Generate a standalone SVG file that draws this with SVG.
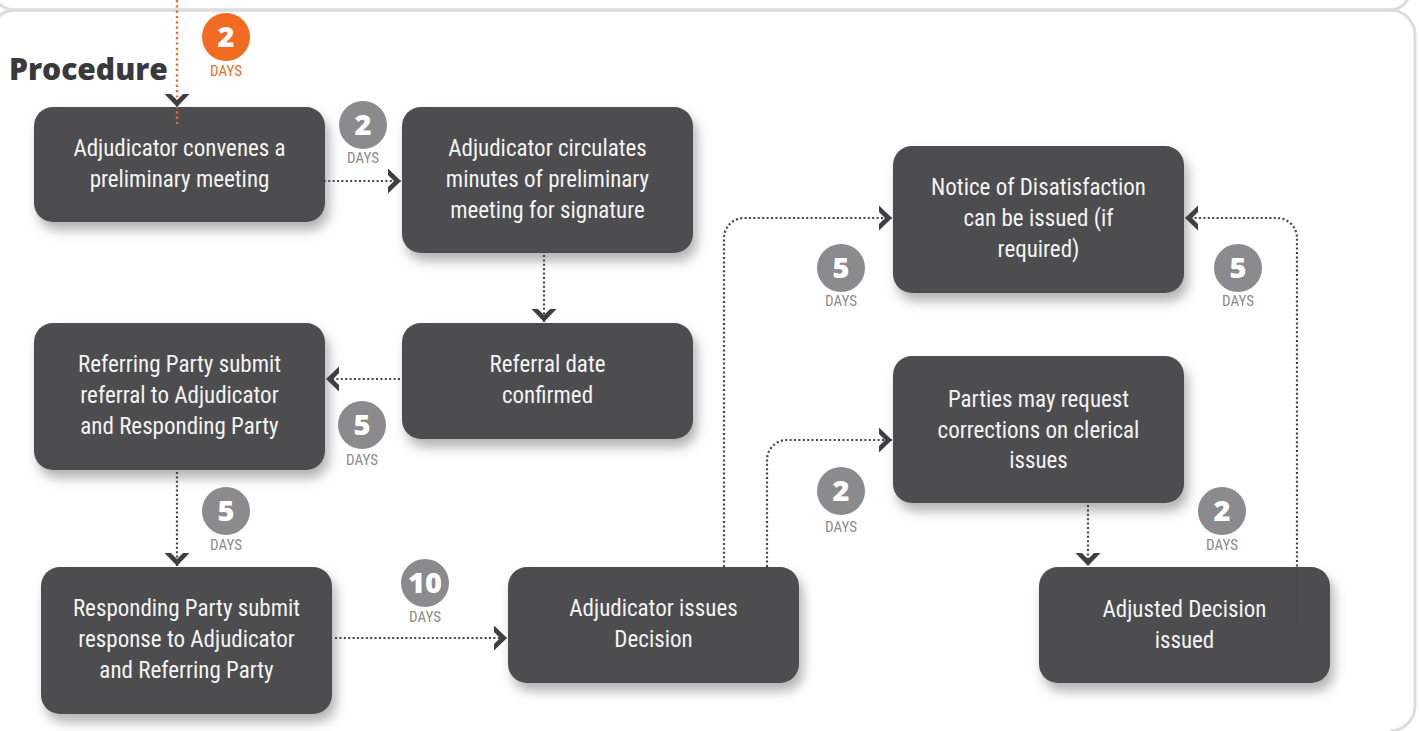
<svg xmlns="http://www.w3.org/2000/svg" width="1419" height="731" viewBox="0 0 1419 731">
<style>
.box{fill:#4d4d4f;filter:url(#sh)}
.bt{font-family:"Roboto Condensed","Liberation Sans Narrow",Roboto,sans-serif;font-stretch:condensed;font-size:23px;fill:#f4f4f4;text-anchor:middle}
.con{fill:none;stroke:#454547;stroke-width:2.2;stroke-dasharray:2 2.4;marker-end:url(#chev)}
.org{fill:none;stroke:#f26b22;stroke-width:2.4;stroke-dasharray:2.2 3.1}
.bc{fill:#8b8b8d}
.bn{font-family:"Open Sans",sans-serif;font-weight:800;font-size:29px;fill:#fff;text-anchor:middle}
.days{font-family:"Roboto Condensed","Liberation Sans Narrow",Roboto,sans-serif;font-stretch:condensed;font-size:15px;fill:#8b8b8d;text-anchor:middle}
.frame{fill:none;stroke:#dcdcdc;stroke-width:3}
</style>
<defs>
<filter id="sh" x="-20%" y="-20%" width="150%" height="160%">
<feDropShadow dx="4" dy="8" stdDeviation="6" flood-color="#000" flood-opacity="0.3"/>
</filter>
<marker id="chev" markerUnits="userSpaceOnUse" markerWidth="30" markerHeight="30" viewBox="-15 -15 30 30" refX="0" refY="0" orient="auto">
<polygon points="0,0 -13,-12.5 -13,-6 -7,0 -13,6 -13,12.5" fill="#3f3f41"/>
</marker>
</defs>
<rect width="1419" height="731" fill="#fff"/>
<g id="frames">
<path class="frame" d="M-6,-2 Q2,10 16,10 L1390,10 A20,20 0 0 0 1410,-10"/>
<path class="frame" d="M-6,22 Q2,10 16,10 L1390,10 A25,25 0 0 1 1415,35 L1415,706 A25,25 0 0 1 1390,731"/>
</g>
<text x="9" y="80" font-family="'Open Sans',sans-serif" font-weight="800" font-size="30" fill="#3a3a3c">Procedure</text>
<g id="n1"><rect class="box" x="34" y="107" width="291" height="115" rx="19"/>
<text class="bt" x="179.5" y="156">Adjudicator convenes a</text><text class="bt" x="179.5" y="187">preliminary meeting</text></g>
<g id="n2"><rect class="box" x="402" y="107" width="291" height="146" rx="19"/>
<text class="bt" x="547.5" y="156">Adjudicator circulates</text><text class="bt" x="547.5" y="187">minutes of preliminary</text><text class="bt" x="547.5" y="218">meeting for signature</text></g>
<g id="n3"><rect class="box" x="402" y="323" width="291" height="116" rx="19"/>
<text class="bt" x="547.5" y="372">Referral date</text><text class="bt" x="547.5" y="403">confirmed</text></g>
<g id="n4"><rect class="box" x="34" y="323" width="291" height="147" rx="19"/>
<text class="bt" x="179.5" y="372">Referring Party submit</text><text class="bt" x="179.5" y="403">referral to Adjudicator</text><text class="bt" x="179.5" y="434">and Responding Party</text></g>
<g id="n5"><rect class="box" x="41" y="567" width="291" height="147" rx="19"/>
<text class="bt" x="186.5" y="616">Responding Party submit</text><text class="bt" x="186.5" y="647">response to Adjudicator</text><text class="bt" x="186.5" y="678">and Referring Party</text></g>
<g id="n6"><rect class="box" x="508" y="567" width="291" height="116" rx="19"/>
<text class="bt" x="653.5" y="616">Adjudicator issues</text><text class="bt" x="653.5" y="647">Decision</text></g>
<g id="n7"><rect class="box" x="893" y="146" width="291" height="147" rx="19"/>
<text class="bt" x="1038.5" y="195">Notice of Disatisfaction</text><text class="bt" x="1038.5" y="226">can be issued (if</text><text class="bt" x="1038.5" y="257">required)</text></g>
<g id="n8"><rect class="box" x="893" y="356" width="291" height="147" rx="19"/>
<text class="bt" x="1038.5" y="407">Parties may request</text><text class="bt" x="1038.5" y="438">corrections on clerical</text><text class="bt" x="1038.5" y="468">issues</text></g>
<g id="n9"><rect class="box" x="1039" y="567" width="291" height="116" rx="19"/>
<text class="bt" x="1184.5" y="617">Adjusted Decision</text><text class="bt" x="1184.5" y="648">issued</text></g>
<g id="connectors">
<path class="org" d="M177,0 L177,124"/>
<path d="M177,95 L177,107" fill="none" stroke="none" marker-end="url(#chev)"/>
<path class="con" d="M315,181 L401,181"/>
<path class="con" d="M544,255 L544,322"/>
<path class="con" d="M400,379 L326,379"/>
<path class="con" d="M177,472 L177,566"/>
<path class="con" d="M335,638 L507,638"/>
<path class="con" d="M724,567 L724,238 A20,20 0 0 1 744,218 L892,218"/>
<path class="con" d="M767,567 L767,460 A20,20 0 0 1 787,440 L892,440"/>
<path class="con" d="M1088,505 L1088,566"/>
<path class="con" d="M1297,628 L1297,238 A20,20 0 0 0 1277,218 L1185,218"/>
</g>
<g id="badges">
<circle cx="226" cy="37" r="24" fill="#f26b22"/><text class="bn" x="226" y="47">2</text><text class="days" x="226" y="76" style="fill:#f26b22">DAYS</text>
<circle class="bc" cx="363" cy="125" r="24"/><text class="bn" x="363" y="135">2</text><text class="days" x="363" y="163">DAYS</text>
<circle class="bc" cx="362" cy="425" r="24"/><text class="bn" x="362" y="435">5</text><text class="days" x="362" y="465">DAYS</text>
<circle class="bc" cx="226" cy="511" r="24"/><text class="bn" x="226" y="521">5</text><text class="days" x="226" y="550">DAYS</text>
<circle class="bc" cx="425" cy="583" r="24"/><text class="bn" x="425" y="593">10</text><text class="days" x="425" y="622">DAYS</text>
<circle class="bc" cx="841" cy="268" r="24"/><text class="bn" x="841" y="278">5</text><text class="days" x="841" y="306">DAYS</text>
<circle class="bc" cx="841" cy="491" r="24"/><text class="bn" x="841" y="501">2</text><text class="days" x="841" y="532">DAYS</text>
<circle class="bc" cx="1222" cy="511" r="24"/><text class="bn" x="1222" y="521">2</text><text class="days" x="1222" y="550">DAYS</text>
<circle class="bc" cx="1238" cy="268" r="24"/><text class="bn" x="1238" y="278">5</text><text class="days" x="1238" y="306">DAYS</text>
</g>
</svg>
